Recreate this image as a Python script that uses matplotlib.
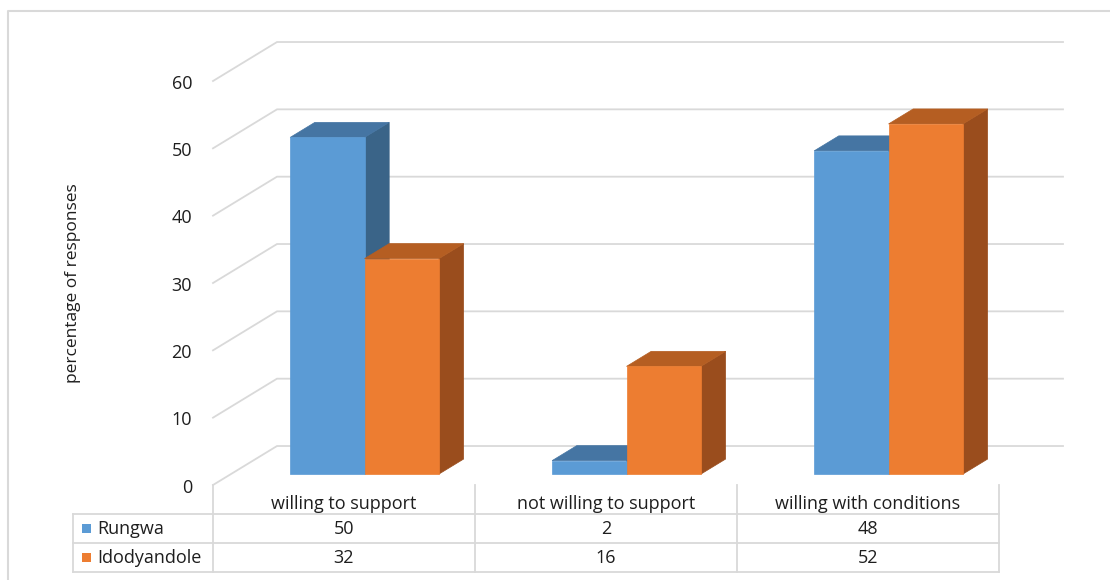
import matplotlib
matplotlib.use("Agg")
import matplotlib.pyplot as plt
from matplotlib.patches import Polygon, Rectangle
from matplotlib.lines import Line2D

plt.rcParams['font.family'] = ['Open Sans', 'DejaVu Sans']

categories = ["willing to support", "not willing to support", "willing with conditions"]
series_names = ["Rungwa", "Idodyandole"]
rungwa = [50, 2, 48]
idodyandole = [32, 16, 52]
yticks = [0, 10, 20, 30, 40, 50, 60]

front_col = ["#5B9BD5", "#ED7D31"]
top_col = ["#4575A3", "#B55E22"]
side_col = ["#3A6488", "#9A4D1D"]
grid_col = "#D9D9D9"
text_col = "#1E1E1E"

# oblique depth: full floor depth in data units (x in categories, y in %)
DX, DY = 0.2443, 5.79
D0, DD = 0.28, 0.385     # bar front depth and bar thickness (fraction of floor)
W = 0.284                # width of one bar


def proj(x, v, d):
    return (x + d * DX, v + d * DY)


fig = plt.figure(figsize=(11.1, 5.8), dpi=100)
ax = fig.add_axes([213 / 1110, 95 / 580, 786 / 1110, 404 / 580])
ax.set_xlim(0, 3)
ax.set_ylim(0, 60)
ax.axis('off')

# side wall and back wall gridlines
for v in yticks:
    x0, y0 = proj(0, v, 0)
    x1, y1 = proj(0, v, 1)
    x2, y2 = proj(3, v, 1)
    ax.plot([x0, x1, x2], [y0, y1, y2], color=grid_col, lw=1.3,
            clip_on=False, zorder=1, solid_joinstyle='miter')
    ax.text(-0.08, v - 0.4, str(v), ha='right', va='center',
            fontsize=13, color=text_col)


def bar3d(x, h, k):
    f = [proj(x, 0, D0), proj(x + W, 0, D0), proj(x + W, h, D0), proj(x, h, D0)]
    t = [proj(x, h, D0), proj(x + W, h, D0), proj(x + W, h, D0 + DD), proj(x, h, D0 + DD)]
    s = [proj(x + W, 0, D0), proj(x + W, 0, D0 + DD), proj(x + W, h, D0 + DD), proj(x + W, h, D0)]
    for pts, c in [(s, side_col[k]), (t, top_col[k]), (f, front_col[k])]:
        ax.add_patch(Polygon(pts, closed=True, facecolor=c, edgecolor=c,
                             lw=0.5, clip_on=False, zorder=3))


for i in range(len(categories)):
    c = i + 0.51
    bar3d(c - W, rungwa[i], 0)
    bar3d(c, idodyandole[i], 1)

ax.text(-0.535, 30, "percentage of responses", rotation=90, ha='center',
        va='center', fontsize=12.5, color=text_col)

# data table under the chart
tab = fig.add_axes([73 / 1110, 8 / 580, 926 / 1110, 87 / 580])
left = -140 / 262
tab.set_xlim(left, 3)
tab.set_ylim(3, 0)
tab.axis('off')
lk = dict(color=grid_col, lw=1.3, clip_on=False, zorder=1)
for r in [1, 2, 3]:
    tab.plot([left, 3], [r, r], **lk)
tab.plot([left, left], [1, 3], **lk)
for j in range(4):
    tab.plot([j, j], [0, 3], **lk)

for j, name in enumerate(categories):
    tab.text(j + 0.5, 0.64, name, ha='center', va='center', fontsize=13, color=text_col)
for r, (name, vals) in enumerate([(series_names[0], rungwa), (series_names[1], idodyandole)]):
    tab.add_patch(Rectangle((-0.5, r + 1.35), 0.034, 0.31, facecolor=front_col[r],
                            edgecolor='none', clip_on=False))
    tab.text(-0.443, r + 1.52, name, ha='left', va='center', fontsize=13, color=text_col)
    for j, v in enumerate(vals):
        tab.text(j + 0.5, r + 1.52, str(v), ha='center', va='center', fontsize=13, color=text_col)

# chart area frame
fig.add_artist(Line2D([8 / 1110, 8 / 1110, 1], [0, 569 / 580, 569 / 580],
                      transform=fig.transFigure, color=grid_col, lw=1.5))

fig.savefig("out.png", dpi=100)
